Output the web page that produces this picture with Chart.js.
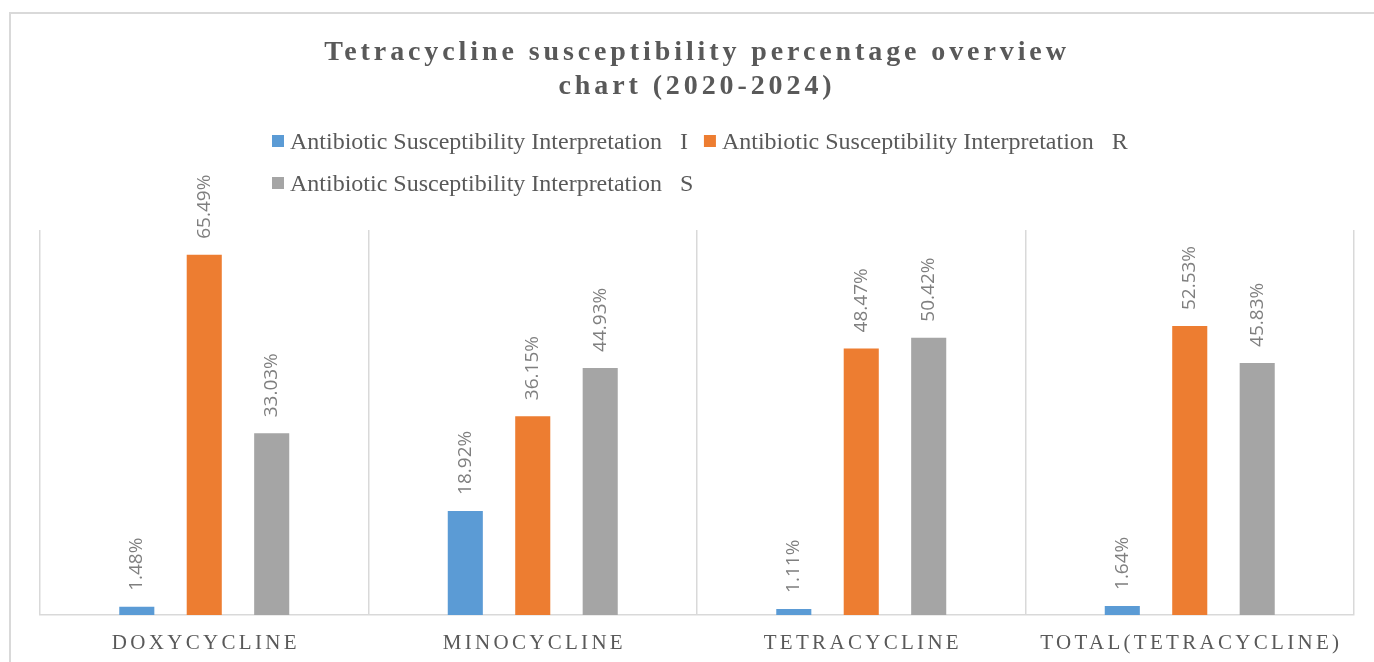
<!DOCTYPE html>
<html>
<head>
<meta charset="utf-8">
<title>Tetracycline susceptibility percentage overview</title>
<script src="https://cdn.jsdelivr.net/npm/chart.js@4.4.1/dist/chart.umd.min.js"></script>
<style>
  html, body { margin: 0; padding: 0; background: #fff; overflow: hidden; }
  #frame { position: absolute; left: 9px; top: 12px; right: 0; bottom: 0; border-left: 2px solid #d9d9d9; border-top: 2px solid #d9d9d9; }
  #chartBox { position: absolute; left: 0; top: 0; width: 1374px; height: 662px; }
</style>
</head>
<body>
<div id="frame"></div>
<div id="chartBox"><canvas id="susceptibility" width="1374" height="662"></canvas></div>
<script>
// chart data
const titleLines = ["Tetracycline susceptibility percentage overview", "chart (2020-2024)"];
const drugs = ["DOXYCYCLINE", "MINOCYCLINE", "TETRACYCLINE", "TOTAL(TETRACYCLINE)"];
const seriesNames = [
  "Antibiotic Susceptibility Interpretation   I",
  "Antibiotic Susceptibility Interpretation   R",
  "Antibiotic Susceptibility Interpretation   S"
];
const intermediate = [1.48, 18.92, 1.11, 1.64];
const resistant = [65.49, 36.15, 48.47, 52.53];
const susceptible = [33.03, 44.93, 50.42, 45.83];
const seriesColors = ["#5b9bd5", "#ed7d31", "#a5a5a5"];

const textGrey = "#595959";

// title, legend, spaced category names and rotated value labels
const decorations = {
  id: "decorations",
  afterDatasetsDraw(chart) {
    const ctx = chart.ctx;
    ctx.save();
    ctx.fillStyle = "#7f7f7f";
    ctx.font = '19px "Open Sans"';
    ctx.textAlign = "left";
    ctx.textBaseline = "middle";
    chart.data.datasets.forEach((ds, di) => {
      chart.getDatasetMeta(di).data.forEach((bar, i) => {
        ctx.save();
        ctx.translate(bar.x, bar.y - 16);
        ctx.rotate(-Math.PI / 2);
        ctx.fillText(ds.data[i].toFixed(2) + "%", 0, 0);
        ctx.restore();
      });
    });
    ctx.restore();
  },
  afterDraw(chart) {
    const ctx = chart.ctx;
    ctx.save();
    ctx.fillStyle = textGrey;

    // title
    ctx.font = 'bold 28px "Liberation Serif"';
    ctx.letterSpacing = "3.9px";
    ctx.textAlign = "center";
    ctx.textBaseline = "alphabetic";
    titleLines.forEach((line, i) => ctx.fillText(line, 697, 60 + i * 34));

    // legend
    ctx.font = '24px "Liberation Serif"';
    ctx.letterSpacing = "0px";
    ctx.textAlign = "left";
    let x = 272, row = 0;
    chart.data.datasets.forEach((ds, i) => {
      const w = 18 + ctx.measureText(ds.label).width;
      if (i > 0 && x + w > 1150) { x = 272; row++; }
      const y = 141 + row * 42;
      ctx.fillStyle = ds.backgroundColor;
      ctx.fillRect(x, y - 6, 12, 12);
      ctx.fillStyle = textGrey;
      ctx.fillText(ds.label, x + 18, y + 8);
      x += w + 16;
    });

    // category names under the axis
    const xs = chart.scales.x;
    ctx.font = '21px "Liberation Serif"';
    ctx.letterSpacing = "3.3px";
    ctx.textAlign = "center";
    drugs.forEach((name, i) => {
      ctx.fillText(name, xs.getPixelForTick(i) + 1.6, xs.top + 34);
    });
    ctx.restore();
  }
};

const seriesValues = [intermediate, resistant, susceptible];

new Chart(document.getElementById("susceptibility"), {
  type: "bar",
  data: {
    labels: drugs,
    datasets: seriesValues.map((values, i) => ({
      label: seriesNames[i],
      data: values,
      backgroundColor: seriesColors[i],
      borderWidth: 0,
      categoryPercentage: 0.616,
      barPercentage: 0.52
    }))
  },
  options: {
    responsive: false,
    animation: false,
    layout: { padding: { top: 230, left: 40, right: 20, bottom: 47 } },
    plugins: {
      legend: { display: false },
      title: { display: false },
      tooltip: { enabled: false }
    },
    scales: {
      x: {
        offset: true,
        grid: { offset: true, color: "#d9d9d9", lineWidth: 1.5, drawTicks: false },
        border: { color: "#d9d9d9", width: 1.5 },
        ticks: { display: false }
      },
      y: { display: false, min: 0, max: 70 }
    }
  },
  plugins: [decorations]
});
</script>
</body>
</html>
